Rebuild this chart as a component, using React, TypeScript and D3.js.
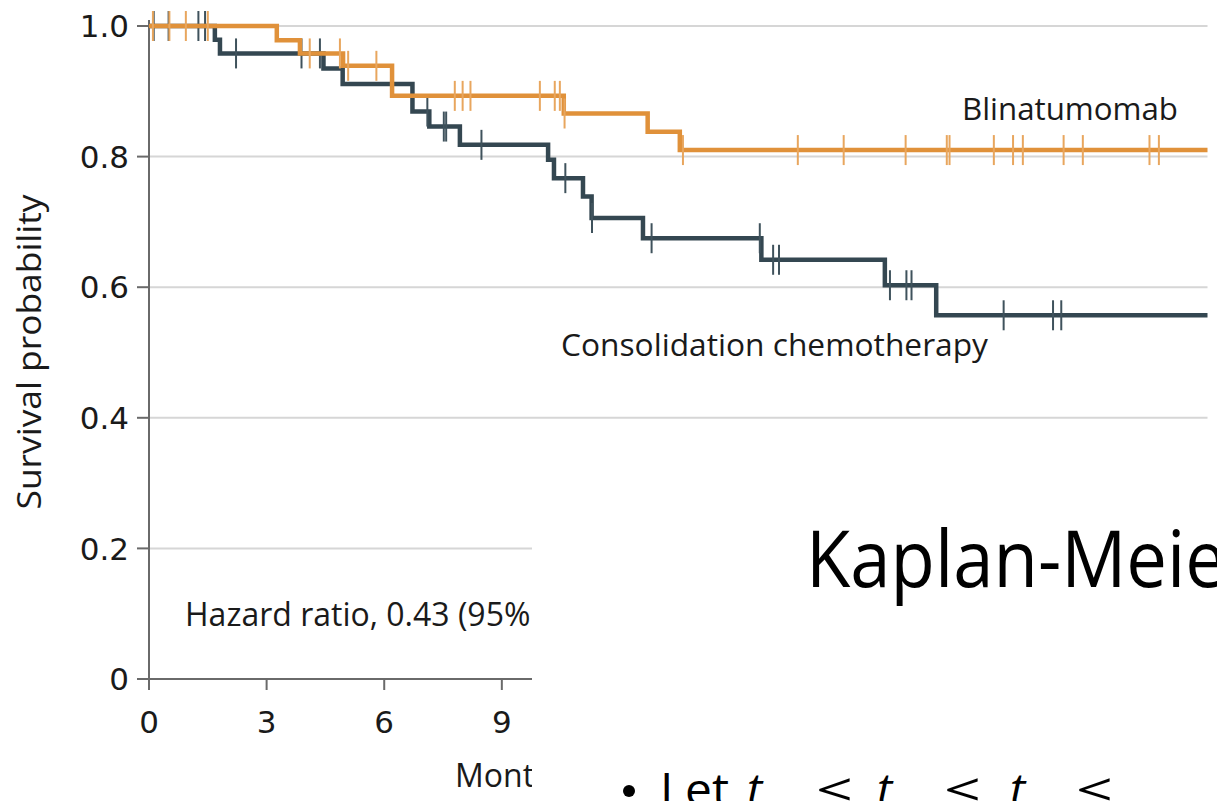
import React from "react";
import * as d3 from "d3";

// ---- data ----
const xTickValues = [0, 3, 6, 9, 12, 15, 18, 21, 24, 27];
const yTickValues = [0, 0.2, 0.4, 0.6, 0.8, 1.0];
const yTickLabels = ["0", "0.2", "0.4", "0.6", "0.8", "1.0"];

const blinaEventTimes = [3.26, 3.85, 4.95, 6.2, 10.58, 12.72, 13.54];
const blinaEventSurv = [0.978, 0.958, 0.939, 0.893, 0.866, 0.838, 0.81];
const blinaCensorTimes = [
  0.1, 0.52, 0.94, 1.5, 4.1, 4.87, 5.08, 5.8, 7.8, 8.0, 8.2, 9.97, 10.35, 10.48,
  10.6, 13.62, 16.55, 17.72, 19.3, 20.35, 20.42, 21.55, 22.04, 22.29, 23.33,
  23.82, 25.52, 25.76,
];

const chemoEventTimes = [
  1.68, 1.81, 4.45, 4.94, 6.72, 7.15, 7.93, 10.18, 10.33, 11.07, 11.29, 12.6,
  15.62, 18.77, 20.08,
];
const chemoEventSurv = [
  0.979, 0.958, 0.935, 0.911, 0.869, 0.846, 0.818, 0.795, 0.767, 0.739, 0.706,
  0.675, 0.642, 0.603, 0.557,
];
const chemoCensorTimes = [
  0.12, 0.5, 1.26, 1.43, 2.22, 3.89, 4.36, 7.1, 7.52, 7.58, 8.48, 10.62, 11.3,
  12.82, 15.58, 15.92, 16.07, 18.9, 19.32, 19.45, 21.8, 23.06, 23.27,
];

const maxMonth = 27;

const ORANGE = "#e0913a";
const ORANGE_TICK = "#e8a65e";
const DARK = "#344751";
const DARK_TICK = "#3f525c";
const GRID = "#d6d6d6";
const AXIS = "#6a6a6a";

const W = 1217;
const H = 801;
const COVER_X = 532;
const COVER_Y = 470;

const x = d3.scaleLinear().domain([0, maxMonth]).range([149, 1207.5]);
const y = d3.scaleLinear().domain([0, 1]).range([679, 26]);

function stepPoints(times: number[], surv: number[]): [number, number][] {
  const pts: [number, number][] = [[0, 1]];
  times.forEach((t, i) => pts.push([t, surv[i]]));
  pts.push([maxMonth, surv[surv.length - 1]]);
  return pts;
}

function survAt(times: number[], surv: number[], t: number): number {
  const i = d3.bisectRight(times, t);
  return i === 0 ? 1 : surv[i - 1];
}

const line = d3
  .line<[number, number]>()
  .x((d) => x(d[0]))
  .y((d) => y(d[1]))
  .curve(d3.curveStepAfter);

const LABEL_FONT = "'Open Sans', 'Noto Sans', sans-serif";
const TICK_FONT = "'DejaVu Sans', Verdana, sans-serif";

export default function App() {
  const chemoPath = line(stepPoints(chemoEventTimes, chemoEventSurv)) || "";
  const blinaPath = line(stepPoints(blinaEventTimes, blinaEventSurv)) || "";
  const tickHalf = 15;
  // only x ticks whose labels are not hidden behind the slide overlay
  const visibleXTicks = xTickValues.filter((v) => x(v) < COVER_X);

  return (
    <svg
      width={W}
      height={H}
      viewBox={`0 0 ${W} ${H}`}
      style={{ position: "absolute", left: 0, top: 0, background: "#fff" }}
    >
      <defs>
        <clipPath id="leftPart">
          <rect x={0} y={0} width={COVER_X} height={H} />
        </clipPath>
      </defs>
      <rect x={0} y={0} width={W} height={H} fill="#fff" />

      {/* gridlines */}
      {yTickValues
        .filter((v) => v > 0)
        .map((v) => (
          <line
            key={"g" + v}
            x1={x(0)}
            x2={x(maxMonth)}
            y1={y(v)}
            y2={y(v)}
            stroke={GRID}
            strokeWidth={2}
          />
        ))}

      {/* axes */}
      <line x1={x(0)} x2={x(0)} y1={y(1) - 6} y2={y(0)} stroke={AXIS} strokeWidth={2} />
      <line x1={x(0) - 1} x2={x(maxMonth)} y1={y(0)} y2={y(0)} stroke={AXIS} strokeWidth={2} />
      {yTickValues.map((v, i) => (
        <g key={"yt" + v}>
          <line x1={x(0) - 12} x2={x(0)} y1={y(v)} y2={y(v)} stroke={AXIS} strokeWidth={2} />
          <text
            x={x(0) - 20}
            y={y(v)}
            dy="0.36em"
            textAnchor="end"
            fontFamily={TICK_FONT}
            fontSize={31}
            fill="#1a1a1a"
          >
            {yTickLabels[i]}
          </text>
        </g>
      ))}
      {xTickValues.map((v) => (
        <line key={"xl" + v} x1={x(v)} x2={x(v)} y1={y(0)} y2={y(0) + 11} stroke={AXIS} strokeWidth={2} />
      ))}
      {visibleXTicks.map((v) => (
        <text
          key={"xt" + v}
          x={x(v)}
          y={y(0) + 54}
          textAnchor="middle"
          fontFamily={TICK_FONT}
          fontSize={31}
          fill="#1a1a1a"
        >
          {v}
        </text>
      ))}

      {/* axis titles */}
      <text
        transform={`translate(41, 352) rotate(-90)`}
        textAnchor="middle"
        fontFamily={LABEL_FONT}
        fontSize={32}
        fill="#1a1a1a"
        textLength={315}
        lengthAdjust="spacingAndGlyphs"
      >
        Survival probability
      </text>
      <g clipPath="url(#leftPart)">
        <text x={455} y={787} fontFamily={LABEL_FONT} fontSize={32} fill="#1a1a1a">
          Months
        </text>
        <text x={185} y={626} fontFamily={LABEL_FONT} fontSize={32} fill="#1a1a1a">
          Hazard ratio, 0.43 (95%
        </text>
      </g>

      {/* curves */}
      <path d={chemoPath} fill="none" stroke={DARK} strokeWidth={4.5} />
      {chemoCensorTimes.map((t, i) => {
        const s = survAt(chemoEventTimes, chemoEventSurv, t);
        return (
          <line
            key={"cc" + i}
            x1={x(t)}
            x2={x(t)}
            y1={y(s) - tickHalf}
            y2={y(s) + tickHalf}
            stroke={DARK_TICK}
            strokeWidth={2}
          />
        );
      })}
      <path d={blinaPath} fill="none" stroke={ORANGE} strokeWidth={4.5} />
      {blinaCensorTimes.map((t, i) => {
        const s = survAt(blinaEventTimes, blinaEventSurv, t);
        return (
          <line
            key={"bc" + i}
            x1={x(t)}
            x2={x(t)}
            y1={y(s) - tickHalf}
            y2={y(s) + tickHalf}
            stroke={ORANGE_TICK}
            strokeWidth={2}
          />
        );
      })}

      {/* curve labels */}
      <text
        x={962}
        y={120}
        fontFamily={LABEL_FONT}
        fontSize={31}
        fill="#1a1a1a"
        textLength={216}
        lengthAdjust="spacingAndGlyphs"
      >
        Blinatumomab
      </text>
      <text
        x={561}
        y={356}
        fontFamily={LABEL_FONT}
        fontSize={31}
        fill="#1a1a1a"
        textLength={427}
        lengthAdjust="spacingAndGlyphs"
      >
        Consolidation chemotherapy
      </text>

      {/* slide overlay covering the lower right */}
      <rect x={COVER_X} y={COVER_Y} width={W - COVER_X} height={H - COVER_Y} fill="#fff" />
      <text
        x={806}
        y={587}
        fontFamily="'Open Sans', 'Noto Sans', sans-serif"
        fontSize={78}
        fill="#000"
        textLength={420}
        lengthAdjust="spacingAndGlyphs"
      >
        Kaplan-Meie
      </text>
      <g fontFamily="'Open Sans', 'Noto Sans', sans-serif" fontSize={46} fill="#000">
        <circle cx={629} cy={791} r={6} fill="#000" />
        <text x={660} y={806} textLength={69} lengthAdjust="spacingAndGlyphs">
          Let
        </text>
        <text x={747} y={806} fontStyle="italic">t</text>
        <text x={816} y={806} textLength={37} lengthAdjust="spacingAndGlyphs">&lt;</text>
        <text x={877} y={806} fontStyle="italic">t</text>
        <text x={944} y={806} textLength={37} lengthAdjust="spacingAndGlyphs">&lt;</text>
        <text x={1010} y={806} fontStyle="italic">t</text>
        <text x={1076} y={806} textLength={37} lengthAdjust="spacingAndGlyphs">&lt;</text>
      </g>
    </svg>
  );
}
